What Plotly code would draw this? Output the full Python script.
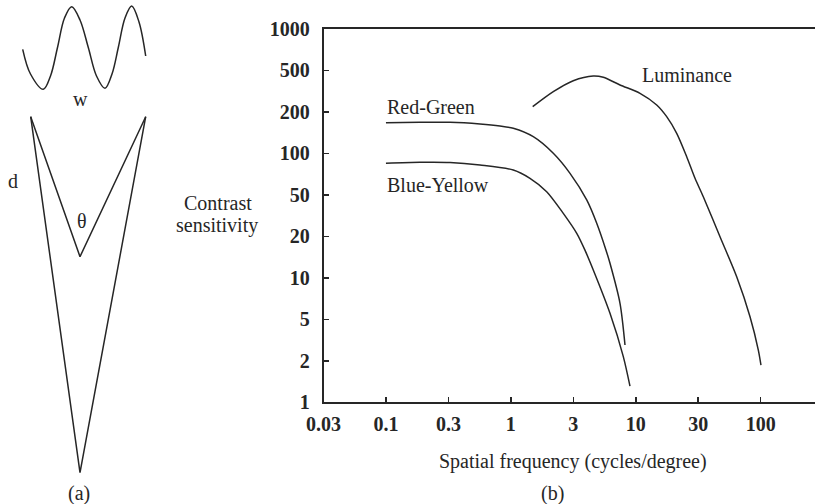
import plotly.graph_objects as go

# ---------------- data (panel b) ----------------
# Spatial frequency (cycles/degree) and contrast sensitivity
rg_freq = [0.100, 0.187, 0.326, 0.566, 0.818, 1.046, 1.512, 2.187, 2.976, 4.05, 4.87, 5.78, 6.22, 7.48, 8.20]
rg_sens = [176.6, 178.0, 178.0, 172.5, 166.2, 159.3, 136.3, 100.3, 69.2, 42.3, 27.5, 16.7, 13.1, 6.25, 2.89]

by_freq = [0.100, 0.187, 0.326, 0.566, 1.046, 1.423, 1.936, 2.63, 3.37, 3.92, 4.57, 6.22, 7.95, 8.99]
by_sens = [83.3, 84.9, 84.6, 80.7, 73.6, 63.1, 49.3, 33.0, 22.8, 16.7, 11.57, 5.19, 2.33, 1.35]

lum_freq = [1.496, 2.187, 3.16, 4.57, 5.50, 7.48, 10.82, 14.72, 17.69, 21.28, 25.58, 29.82, 34.74, 47.27, 64.3, 82.2, 95.8, 100.6]
lum_sens = [237.5, 313.5, 384.2, 419.2, 409.2, 354.8, 304.3, 245.1, 197.4, 145.1, 94.1, 63.1, 44.9, 21.4, 10.2, 4.87, 2.63, 1.99]

x_tick_labels = ["0.03", "0.1", "0.3", "1", "3", "10", "30", "100"]
y_tick_labels = ["1", "2", "5", "10", "20", "50", "100", "200", "500", "1000"]

# ---------------- diagram (panel a), in page pixels ----------------
wave_x = [22.7, 30.5, 43.3, 50.5, 57.5, 64.5, 71.7, 80.0, 88.3, 96.5, 105.0, 112.0, 118.3, 125.0, 131.7, 139.0, 145.7]
wave_y = [49.3, 74.0, 89.3, 76.0, 47.5, 18.0, 6.7, 20.0, 47.5, 76.0, 88.3, 74.0, 47.5, 18.0, 6.0, 22.0, 56.0]
outer_x = [30.7, 80.0, 145.7]
outer_y = [116.7, 472.7, 116.7]
inner_x = [30.7, 80.0, 145.7]
inner_y = [116.7, 256.7, 116.7]

W, H = 815, 504
INK = "#262626"
SERIF = "Liberation Serif"

fig = go.Figure()

# panel b curves
for fx, fy in [(rg_freq, rg_sens), (by_freq, by_sens), (lum_freq, lum_sens)]:
    fig.add_trace(go.Scatter(x=fx, y=fy, mode="lines",
                             line=dict(color=INK, width=1.5, shape="spline", smoothing=0.8),
                             xaxis="x", yaxis="y", showlegend=False, hoverinfo="skip"))

# panel a drawing
fig.add_trace(go.Scatter(x=wave_x, y=wave_y, mode="lines",
                         line=dict(color=INK, width=1.5, shape="spline", smoothing=1.0),
                         xaxis="x2", yaxis="y2", showlegend=False, hoverinfo="skip"))
for vx, vy in [(outer_x, outer_y), (inner_x, inner_y)]:
    fig.add_trace(go.Scatter(x=vx, y=vy, mode="lines", line=dict(color=INK, width=1.5),
                             xaxis="x2", yaxis="y2", showlegend=False, hoverinfo="skip"))

x_left_px, x_right_px = 323.5, 815.0
dec_x = 124.9
x_lo = -1.5
x_hi = x_lo + (x_right_px - x_left_px) / dec_x
y_top_px, y_bot_px = 29.0, 402.3

tick_font = dict(family=SERIF, size=20, color=INK, weight="bold")

fig.update_layout(
    width=W, height=H,
    margin=dict(l=0, r=0, t=0, b=0, pad=0, autoexpand=False),
    paper_bgcolor="white", plot_bgcolor="white",
    font=dict(family=SERIF, color=INK),
    xaxis=dict(type="log", range=[x_lo, x_hi],
               domain=[x_left_px / W, 1.0],
               tickvals=[10 ** (k / 2 - 1.5) for k in range(len(x_tick_labels))],
               ticktext=x_tick_labels,
               ticks="inside", ticklen=5, tickwidth=1.5, tickcolor=INK,
               showline=True, linecolor=INK, linewidth=1.8, mirror=True,
               showgrid=False, zeroline=False, tickfont=tick_font,
               ticklabelstandoff=3, automargin=False),
    yaxis=dict(type="log", range=[0, 3],
               domain=[1 - y_bot_px / H, 1 - y_top_px / H],
               tickvals=[10 ** (k / 3) for k in range(len(y_tick_labels))],
               ticktext=y_tick_labels,
               ticks="inside", ticklen=5, tickwidth=1.5, tickcolor=INK,
               showline=True, linecolor=INK, linewidth=1.8, mirror=False,
               showgrid=False, zeroline=False, tickfont=tick_font,
               ticklabelstandoff=8, automargin=False),
    xaxis2=dict(domain=[0, 200 / W], range=[0, 200], visible=False, fixedrange=True,
                anchor="y2", automargin=False),
    yaxis2=dict(domain=[0, 1], range=[H, 0], visible=False, fixedrange=True,
                anchor="x2", automargin=False),
)


def note(text, px, py, xanchor="center", size=20):
    fig.add_annotation(text=text, x=px / W, y=1 - py / H, xref="paper", yref="paper",
                       xanchor=xanchor, yanchor="middle", showarrow=False,
                       font=dict(family=SERIF, size=size, color=INK))


note("Red-Green", 385, 106.7, xanchor="left")
note("Blue-Yellow", 385, 184.7, xanchor="left")
note("Luminance", 686.7, 74.7)
note("Spatial frequency (cycles/degree)", 572.7, 461.7)
note("(b)", 552, 493)
note("(a)", 79, 493)
note("Contrast", 217.5, 202.5)
note("sensitivity", 216.7, 226)
note("w", 80, 99)
note("d", 13.3, 180.7)
note("θ", 81.7, 221)

fig.write_html(
    "out.html",
    config={"displayModeBar": False, "staticPlot": True},
    post_script="document.body.style.margin='0';document.body.style.overflow='hidden';",
)
